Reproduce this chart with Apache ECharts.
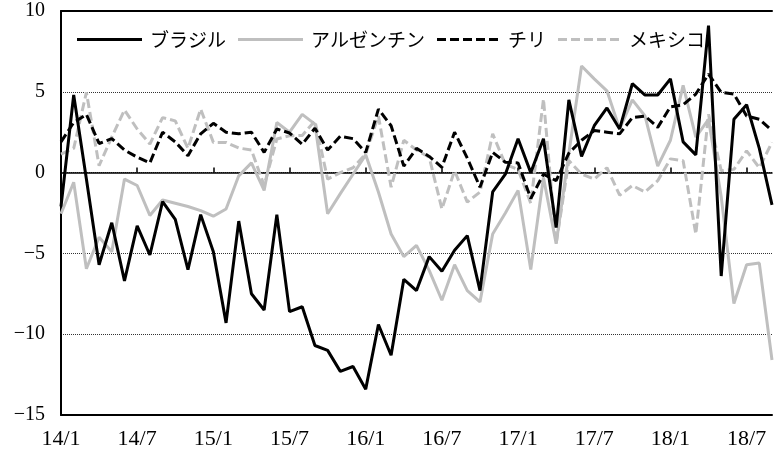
<!DOCTYPE html>
<html><head><meta charset="utf-8">
<script src="https://cdn.jsdelivr.net/npm/echarts@6/dist/echarts.min.js"></script>
<style>html,body{margin:0;padding:0;background:#fff}#c{width:775px;height:452px}</style>
</head><body><div id="c"></div>
<script>
const categories = [
 "14/1","14/2","14/3","14/4","14/5","14/6","14/7","14/8","14/9","14/10","14/11","14/12",
 "15/1","15/2","15/3","15/4","15/5","15/6","15/7","15/8","15/9","15/10","15/11","15/12",
 "16/1","16/2","16/3","16/4","16/5","16/6","16/7","16/8","16/9","16/10","16/11","16/12",
 "17/1","17/2","17/3","17/4","17/5","17/6","17/7","17/8","17/9","17/10","17/11","17/12",
 "18/1","18/2","18/3","18/4","18/5","18/6","18/7","18/8","18/9"
];
const seriesNames = ["ブラジル","アルゼンチン","チリ","メキシコ"];
const brazil = [
 -2.1,4.8,-0.4,-5.7,-3.1,-6.7,-3.3,-5.1,-1.8,-2.9,-6.0,-2.6,
 -4.9,-9.3,-3.0,-7.5,-8.5,-2.6,-8.6,-8.3,-10.7,-11.0,-12.3,-12.0,
 -13.4,-9.4,-11.3,-6.6,-7.3,-5.2,-6.1,-4.8,-3.9,-7.3,-1.2,-0.1,
 2.1,0.0,2.1,-3.4,4.5,1.0,2.9,4.0,2.7,5.5,4.8,4.8,
 5.8,1.9,1.1,9.1,-6.4,3.3,4.2,1.5,-2.0
];
const argentina = [
 -2.55,-0.6,-5.95,-4.0,-4.9,-0.4,-0.8,-2.65,-1.7,-1.9,-2.1,-2.35,
 -2.7,-2.25,-0.2,0.6,-1.1,3.1,2.5,3.6,3.0,-2.55,-1.3,-0.1,
 1.1,-1.2,-3.8,-5.2,-4.5,-6.05,-7.9,-5.7,-7.3,-8.0,-3.8,-2.5,
 -1.1,-6.0,-0.3,-4.4,1.2,6.6,5.8,5.06,2.7,4.5,3.5,0.4,
 2.0,5.4,2.2,3.3,-1.5,-8.1,-5.7,-5.6,-11.6
];
const chile = [
 1.9,3.1,3.6,1.8,2.1,1.4,0.95,0.6,2.5,1.9,1.05,2.4,
 3.05,2.5,2.4,2.5,1.25,2.7,2.45,1.75,2.75,1.4,2.25,2.1,
 1.25,3.93,2.9,0.4,1.5,1.0,0.33,2.5,0.9,-0.9,1.25,0.64,
 0.6,-1.6,-0.1,-0.5,1.2,2.0,2.6,2.5,2.4,3.4,3.5,2.8,
 4.07,4.2,4.86,6.1,4.96,4.86,3.5,3.3,2.6
];
const mexico = [
 1.15,1.5,4.96,0.43,2.2,3.87,2.7,1.77,3.4,3.2,1.5,3.93,
 1.87,1.87,1.52,1.4,-0.8,2.08,2.28,2.3,3.2,-0.4,0.0,0.3,
 1.15,3.5,-0.9,2.0,1.4,0.95,-2.25,0.12,-1.83,-1.2,2.4,0.5,
 0.2,-1.9,4.55,-4.4,0.74,-0.1,-0.4,0.3,-1.4,-0.8,-1.2,-0.5,
 0.85,0.74,-3.8,3.6,0.12,0.2,1.35,0.3,1.87
];
const yTicks = {min:-15, max:10, interval:5};

const chart = echarts.init(document.getElementById('c'), null, {renderer:'canvas'});
const GRAY = '#bfbfbf';
const SOLID_ICON = 'path://M0,0H65V3H0Z';
const DASH_ICON = 'path://M0,0H9V3H0Z M13,0H22V3H13Z M26,0H35V3H26Z M39,0H48V3H39Z M52,0H61V3H52Z';
function mkSeries(name, data, color, dashed, z){
  return {
    name, type:'line', data, symbol:'none', showSymbol:false, z,
    xAxisIndex:0, yAxisIndex:0,
    itemStyle:{color},
    lineStyle:{color, width:3, type: dashed ? [9,4] : 'solid'},
    emphasis:{disabled:true}
  };
}
chart.setOption({
  animation:false,
  grid:{left:61, right:3, top:11, bottom:37, containLabel:false},
  legend:{
    left:72, top:25, itemWidth:65, itemHeight:3, itemGap:12,
    data: [
      {name:seriesNames[0], icon:SOLID_ICON},
      {name:seriesNames[1], icon:SOLID_ICON},
      {name:seriesNames[2], icon:DASH_ICON},
      {name:seriesNames[3], icon:DASH_ICON}
    ],
    itemStyle:{borderWidth:0},
    textStyle:{fontFamily:'Noto Sans CJK JP', fontSize:19, color:'#000', padding:[0,0,0,3]}
  },
  xAxis:[
    {type:'category', data:categories, boundaryGap:false, position:'bottom',
     axisLine:{onZero:false, lineStyle:{color:'#000', width:2}},
     axisTick:{show:false},
     axisLabel:{interval:5, color:'#000', fontFamily:'Liberation Serif', fontSize:22, margin:13},
     splitLine:{show:false}},
    {type:'category', data:categories, boundaryGap:false, position:'bottom',
     axisLine:{onZero:true, lineStyle:{color:'#000', width:1.5}},
     axisTick:{show:true, inside:true, interval:5, length:5, lineStyle:{color:'#000', width:1.5}},
     axisLabel:{show:false}, splitLine:{show:false}},
    {type:'category', data:categories, boundaryGap:false, position:'top',
     axisLine:{onZero:false, lineStyle:{color:'#000', width:2}},
     axisTick:{show:false}, axisLabel:{show:false}, splitLine:{show:false}}
  ],
  yAxis:{
    type:'value', min:yTicks.min, max:yTicks.max, interval:yTicks.interval,
    axisLine:{show:true, lineStyle:{color:'#000', width:2}},
    axisTick:{show:false},
    axisLabel:{color:'#000', fontFamily:'Liberation Serif', fontSize:20, margin:16,
      formatter: v => String(v).replace('-', '\u2212')},
    splitLine:{show:true, lineStyle:{color:'#333', type:'dotted', width:1}}
  },
  series:[
    mkSeries(seriesNames[0], brazil, '#000', false, 6),
    mkSeries(seriesNames[1], argentina, GRAY, false, 3),
    mkSeries(seriesNames[2], chile, '#000', true, 5),
    mkSeries(seriesNames[3], mexico, GRAY, true, 4)
  ]
});
</script>
</body></html>
